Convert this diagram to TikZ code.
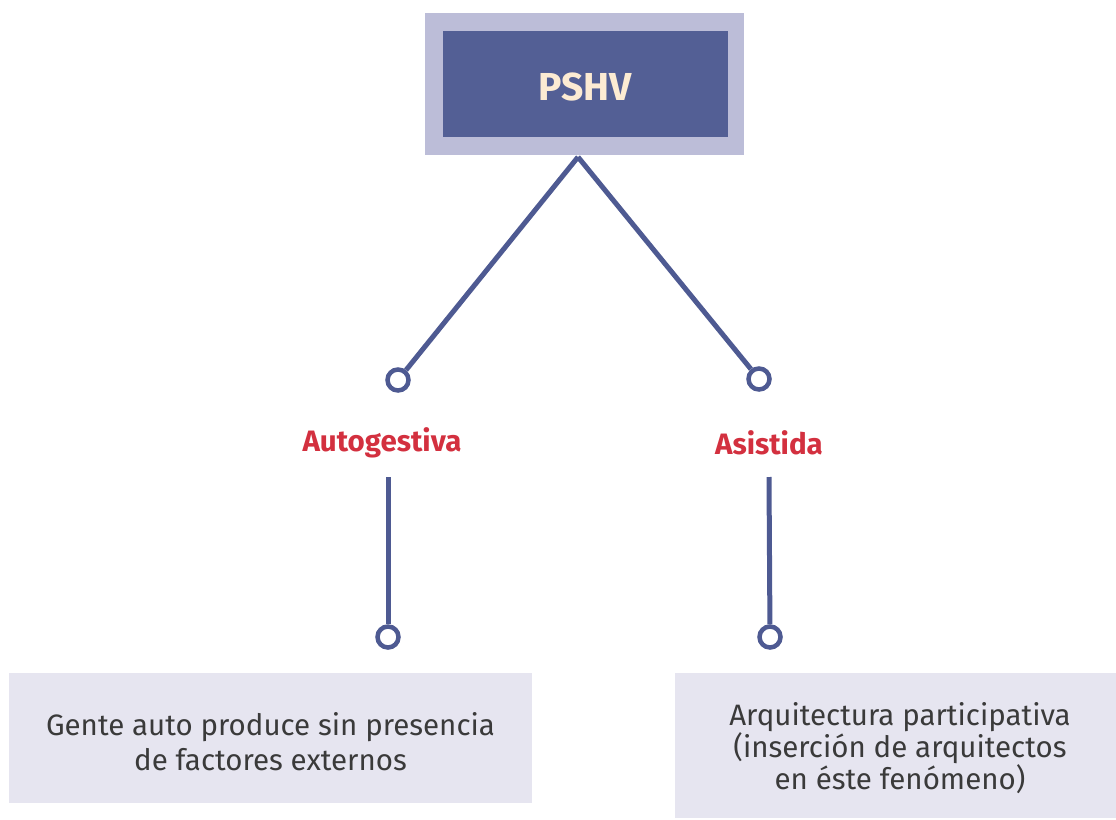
\documentclass[tikz,border=0pt]{standalone}
\usepackage{fontspec}
\setmainfont{Fira Sans}
\definecolor{outerc}{HTML}{BCBDD8}
\definecolor{innerc}{HTML}{535F95}
\definecolor{linec}{HTML}{4E5A92}
\definecolor{redc}{HTML}{D3303F}
\definecolor{creamc}{HTML}{FCEBD3}
\definecolor{boxc}{HTML}{E6E5F0}
\definecolor{textc}{HTML}{3A3A3A}
\begin{document}
\begin{tikzpicture}[x=1pt,y=-1pt,
  conn/.style={draw=linec,line width=5pt},
  dot/.style={circle,draw=linec,line width=4.5pt,fill=white,minimum size=21pt,inner sep=0pt},
  lab/.style={text=redc,font=\fontsize{29.5}{34}\selectfont\bfseries},
  leaf/.style={fill=boxc,inner sep=0pt,anchor=north west},
  leaftext/.style={text=textc,align=center}]
\useasboundingbox (0,0) rectangle (1116,819);
\node[fill=outerc,inner sep=0pt,minimum width=319pt,minimum height=142pt,anchor=north west] (outer) at (425,13) {};
\node[fill=innerc,inner sep=0pt,minimum width=285pt,minimum height=106pt,anchor=north west] (inner) at (443,31) {};
\node[text=creamc,font=\fontsize{39}{44}\selectfont\bfseries] (title) at (585,87) {PSHV};
\coordinate (apex) at (578,157);
\node[dot] (c1) at (398,380) {};
\node[dot] (c2) at (759,379) {};
\draw[conn] (apex) -- (c1);
\draw[conn] (apex) -- (c2);
\node[lab] (l1) at (382,443) {Autogestiva};
\node[lab] (l2) at (769,443) {Asistida};
\coordinate (v1) at (388,477);
\coordinate (v2) at (769,477);
\node[dot] (c3) at (388,637) {};
\node[dot] (c4) at (770,637) {};
\draw[conn] (v1) -- (c3);
\draw[conn] (v2) -- (c4);
\node[leaf,minimum width=523pt,minimum height=130pt] (b1) at (9,673) {};
\node[leaf,minimum width=450pt,minimum height=145pt] (b2) at (675,673) {};
\node[leaftext,font=\fontsize{29.5}{35}\selectfont] (t1) at (270.5,742) {Gente auto produce sin presencia\\de factores externos};
\node[leaftext,font=\fontsize{29.5}{30}\selectfont] (t2) at (900,748) {Arquitectura participativa\\(inserción de arquitectos\\en éste fenómeno)};
\end{tikzpicture}
\end{document}
